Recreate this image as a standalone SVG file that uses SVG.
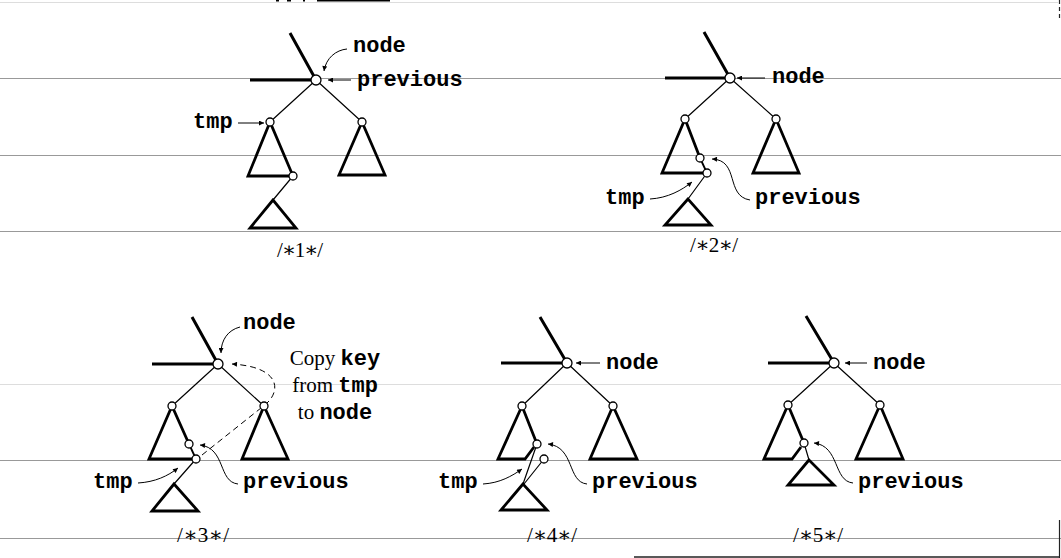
<svg xmlns="http://www.w3.org/2000/svg" width="1061" height="558" viewBox="0 0 1061 558">
<style>
.bg{stroke:#999;stroke-width:1;fill:none}
.bgl{stroke:#ddd;stroke-width:1;fill:none}
.thick{stroke:#000;stroke-width:3;fill:none}
.tri{stroke:#000;stroke-width:2.8;fill:none;stroke-linejoin:miter}
.thin{stroke:#000;stroke-width:1.2;fill:none}
.nd{fill:#fff;stroke:#000;stroke-width:1.3}
.arr{stroke:#000;stroke-width:1;fill:none;marker-end:url(#ah)}
.dash{stroke-dasharray:6 4}
.mono{font-family:"Liberation Mono","DejaVu Sans Mono",monospace;font-weight:bold;font-size:22px;fill:#000}
.serif{font-family:"Liberation Serif","DejaVu Serif",serif;font-size:21px;fill:#000}
.cap{font-family:"Liberation Serif","DejaVu Serif",serif;font-size:21px;fill:#000}
</style>
<defs>
<marker id="ah" viewBox="0 0 10 10" refX="10" refY="5" markerWidth="8" markerHeight="5" orient="auto" markerUnits="userSpaceOnUse"><path d="M0,0 L10,5 L0,10 z" fill="#000"/></marker>
</defs>
<rect width="1061" height="558" fill="#fff"/>
<g id="background">
<line class="bgl" x1="0" y1="2.5" x2="1058" y2="2.5"/>
<line class="bg" x1="0" y1="78.5" x2="1061" y2="78.5"/>
<line class="bg" x1="0" y1="155.5" x2="1061" y2="155.5"/>
<line class="bg" x1="0" y1="231.5" x2="1061" y2="231.5"/>
<line class="bgl" x1="0" y1="384.5" x2="1061" y2="384.5"/>
<line class="bg" x1="0" y1="460.5" x2="1061" y2="460.5"/>
<line class="bg" x1="0" y1="538.5" x2="1061" y2="538.5"/>
<rect x="317" y="0" width="73" height="1.5" fill="#000"/>
<rect x="276" y="0" width="3" height="1.5" fill="#000"/>
<rect x="287" y="0" width="4" height="1.5" fill="#000"/>
<rect x="303" y="0" width="2" height="1.5" fill="#000"/>
<line x1="634" y1="557" x2="1060" y2="557" stroke="#222" stroke-width="1.5"/>
<line x1="1059.5" y1="0" x2="1059.5" y2="20" stroke="#222" stroke-width="1.2" stroke-dasharray="4 3"/>
<line x1="1059.5" y1="520" x2="1059.5" y2="558" stroke="#222" stroke-width="1.2"/>
</g>

<!-- Panel 1 -->
<g id="panel1">
<g id="p1-connectors">
<path class="thick" d="M290,33 L316,80 M250,80 L316,80"/>
<path class="thin" d="M316,80 L270,122 M316,80 L362,122 M293,176 L273,200"/>
<path class="arr" d="M351,80 L328,80"/>
<path class="arr" d="M238,123 L264,123"/>
<path class="arr" d="M347,49 C336,50 326,58 324,71"/>
</g>
<g id="p1-left-subtree"><polygon class="tri" points="270,122 248,176 293,176"/></g>
<g id="p1-right-subtree"><polygon class="tri" points="362,122 339,175 385,175"/></g>
<g id="p1-lower-subtree"><polygon class="tri" points="273,200 250,228 296,228"/></g>
<g id="p1-root"><circle class="nd" cx="316" cy="80" r="5"/></g>
<g id="p1-left"><circle class="nd" cx="270" cy="122" r="4"/></g>
<g id="p1-right"><circle class="nd" cx="362" cy="122" r="4"/></g>
<g id="p1-succ"><circle class="nd" cx="293" cy="176" r="4"/></g>
<text class="mono" x="353" y="52">node</text>
<text class="mono" x="357" y="86">previous</text>
<text class="mono" x="193" y="128">tmp</text>
<text class="cap" x="300" y="257" text-anchor="middle" textLength="46" lengthAdjust="spacing">/∗1∗/</text>
</g>

<!-- Panel 2 -->
<g id="panel2">
<g id="p2-connectors">
<path class="thick" d="M704,32 L730,78 M665,78 L730,78"/>
<path class="thin" d="M730,78 L685,119 M730,78 L776,119 M707,173 L688,199"/>
<path class="thin" d="M700,158 L707,173" style="stroke-width:1.8"/>
<path class="arr" d="M765,78 L737,78"/>
<path class="arr" d="M650,199 C668,198 682,190 692,182"/>
<path class="arr" d="M750,200 C725,196 740,160 712,159"/>
</g>
<g id="p2-left-subtree"><path class="tri" d="M700,158 L685,119 L662,173 L707,173"/></g>
<g id="p2-right-subtree"><polygon class="tri" points="776,119 753,173 799,173"/></g>
<g id="p2-lower-subtree"><polygon class="tri" points="688,199 665,225 711,225"/></g>
<g id="p2-root"><circle class="nd" cx="730" cy="78" r="5"/></g>
<g id="p2-left"><circle class="nd" cx="685" cy="119" r="4"/></g>
<g id="p2-right"><circle class="nd" cx="776" cy="119" r="4"/></g>
<g id="p2-previous"><circle class="nd" cx="700" cy="158" r="4"/></g>
<g id="p2-tmp"><circle class="nd" cx="707" cy="173" r="4"/></g>
<text class="mono" x="772" y="83">node</text>
<text class="mono" x="605" y="204">tmp</text>
<text class="mono" x="755" y="204">previous</text>
<text class="cap" x="714" y="252" text-anchor="middle" textLength="48" lengthAdjust="spacing">/∗2∗/</text>
</g>

<!-- Panel 3 -->
<g id="panel3">
<g id="p3-connectors">
<path class="thick" d="M192,317 L218,364 M152,364 L218,364"/>
<path class="thin" d="M218,364 L172,406 M218,364 L264,406 M196,459 L174,484"/>
<path class="thin" d="M189,444 L196,459" style="stroke-width:1.8"/>
<path class="arr dash" d="M202,455 L266,404 C281,391 281,367 232,364"/>
<path class="arr" d="M240,327 C228,330 221,340 221,353"/>
<path class="arr" d="M138,483 C155,482 168,476 178,468"/>
<path class="arr" d="M238,484 C218,482 226,448 200,445"/>
</g>
<g id="p3-left-subtree"><path class="tri" d="M189,444 L172,406 L149,459 L196,459"/></g>
<g id="p3-right-subtree"><polygon class="tri" points="264,406 242,459 288,459"/></g>
<g id="p3-lower-subtree"><polygon class="tri" points="174,484 152,511 198,511"/></g>
<g id="p3-root"><circle class="nd" cx="218" cy="364" r="5"/></g>
<g id="p3-left"><circle class="nd" cx="172" cy="406" r="4"/></g>
<g id="p3-right"><circle class="nd" cx="264" cy="406" r="4"/></g>
<g id="p3-previous"><circle class="nd" cx="189" cy="444" r="4"/></g>
<g id="p3-tmp"><circle class="nd" cx="196" cy="459" r="4"/></g>
<text class="mono" x="243" y="329">node</text>
<text class="mono" x="93" y="488">tmp</text>
<text class="mono" x="243" y="488">previous</text>
<text x="335" y="365" text-anchor="middle"><tspan class="serif">Copy </tspan><tspan class="mono">key</tspan></text>
<text x="335" y="392" text-anchor="middle"><tspan class="serif">from </tspan><tspan class="mono">tmp</tspan></text>
<text x="335" y="419" text-anchor="middle"><tspan class="serif">to </tspan><tspan class="mono">node</tspan></text>
<text class="cap" x="203" y="542" text-anchor="middle" textLength="52" lengthAdjust="spacing">/∗3∗/</text>
</g>

<!-- Panel 4 -->
<g id="panel4">
<g id="p4-connectors">
<path class="thick" d="M540,317 L567,363 M501,363 L567,363"/>
<path class="thin" d="M567,363 L522,406 M567,363 L613,406 M537,444 L523,484 M544,459 L524,484"/>
<path class="arr" d="M600,363 L576,363"/>
<path class="arr" d="M483,484 C500,483 512,476 522,469"/>
<path class="arr" d="M587,484 C567,482 575,447 548,444"/>
</g>
<g id="p4-left-subtree"><path class="tri" d="M537,444 L522,406 L498,459 L525,459 L534,447"/></g>
<g id="p4-right-subtree"><polygon class="tri" points="613,406 590,459 637,459"/></g>
<g id="p4-lower-subtree"><polygon class="tri" points="523,484 501,510 547,510"/></g>
<g id="p4-root"><circle class="nd" cx="567" cy="363" r="5"/></g>
<g id="p4-left"><circle class="nd" cx="522" cy="406" r="4"/></g>
<g id="p4-right"><circle class="nd" cx="613" cy="406" r="4"/></g>
<g id="p4-previous"><circle class="nd" cx="537" cy="444" r="4"/></g>
<g id="p4-tmp"><circle class="nd" cx="544" cy="459" r="4"/></g>
<text class="mono" x="606" y="369">node</text>
<text class="mono" x="438" y="488">tmp</text>
<text class="mono" x="592" y="488">previous</text>
<text class="cap" x="552" y="542" text-anchor="middle" textLength="50" lengthAdjust="spacing">/∗4∗/</text>
</g>

<!-- Panel 5 -->
<g id="panel5">
<g id="p5-connectors">
<path class="thick" d="M806,316 L834,363 M768,363 L834,363"/>
<path class="thin" d="M834,363 L788,405 M834,363 L880,405 M804,443 L809,460"/>
<path class="arr" d="M867,363 L845,363"/>
<path class="arr" d="M853,483 C833,481 840,446 814,443"/>
</g>
<g id="p5-left-subtree"><path class="tri" d="M804,443 L788,405 L764,459 L792,459 L801,447"/></g>
<g id="p5-right-subtree"><polygon class="tri" points="880,405 856,459 903,459"/></g>
<g id="p5-lower-subtree"><polygon class="tri" points="809,460 788,485 834,485"/></g>
<g id="p5-root"><circle class="nd" cx="834" cy="363" r="5"/></g>
<g id="p5-left"><circle class="nd" cx="788" cy="405" r="4"/></g>
<g id="p5-right"><circle class="nd" cx="880" cy="405" r="4"/></g>
<g id="p5-previous"><circle class="nd" cx="804" cy="443" r="4"/></g>
<text class="mono" x="873" y="369">node</text>
<text class="mono" x="858" y="488">previous</text>
<text class="cap" x="818" y="542" text-anchor="middle" textLength="50" lengthAdjust="spacing">/∗5∗/</text>
</g>
</svg>
